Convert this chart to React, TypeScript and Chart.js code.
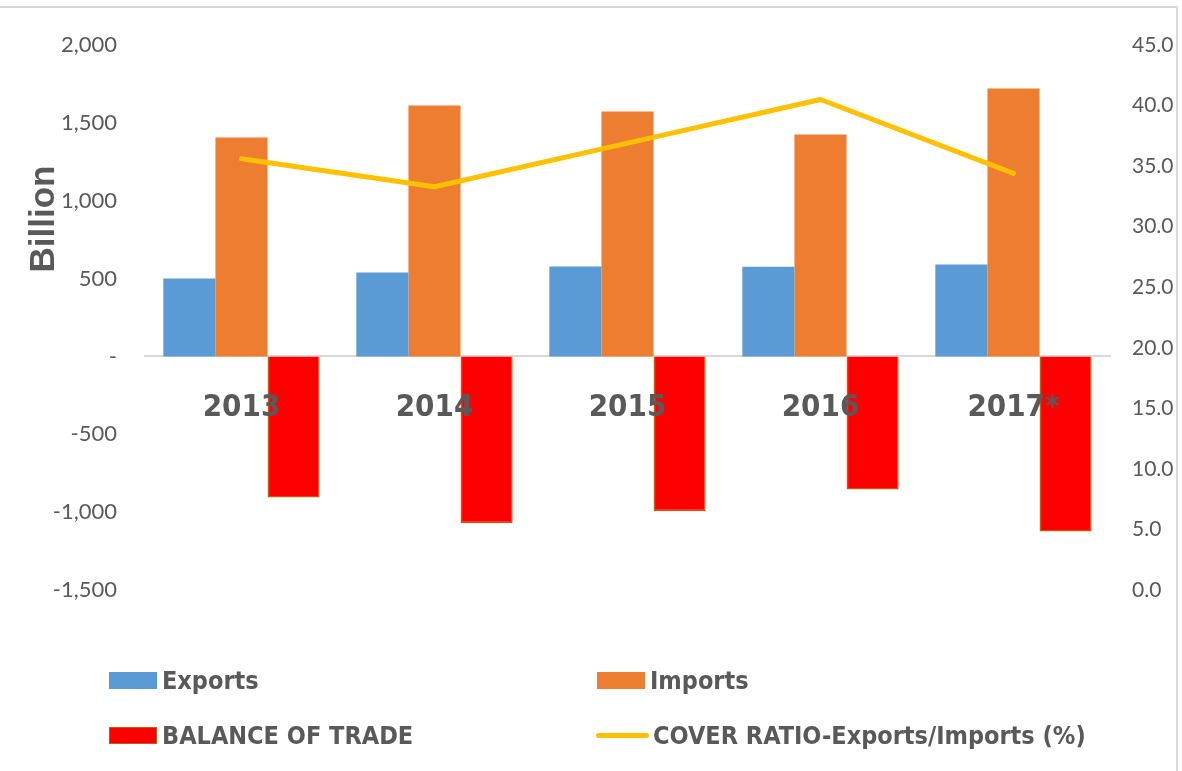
import React, { useEffect, useRef } from "react";
import { Chart, registerables } from "chart.js";

Chart.register(...registerables);

const categories = ["2013", "2014", "2015", "2016", "2017*"];
const exportsValues = [501, 539, 578, 576, 591];
const importsValues = [1406, 1612, 1573, 1426, 1721];
const balanceValues = [-906, -1072, -995, -854, -1124];
const coverRatioValues = [35.6, 33.3, 36.9, 40.5, 34.4];

const seriesNames = ["Exports", "Imports", "BALANCE OF TRADE", "COVER RATIO-Exports/Imports (%)"];
const leftTicks = { min: -1500, max: 2000, step: 500 };
const rightTicks = { min: 0, max: 45, step: 5 };
const yTitle = "Billion";

const TEXT = "#595959";
const NARROW = '"Liberation Sans Narrow", "DejaVu Sans Condensed", "Arial Narrow", sans-serif';
const TICKFONT = 'Lato, "Open Sans", sans-serif';

const titlePlugin = {
  id: "sideTitle",
  afterDraw(chart: any) {
    const ctx = chart.ctx;
    ctx.save();
    ctx.translate(44, 219);
    ctx.rotate(-Math.PI / 2);
    ctx.font = 'bold 35px "Liberation Sans", Arial, sans-serif';
    ctx.fillStyle = TEXT;
    ctx.textAlign = "center";
    ctx.textBaseline = "middle";
    ctx.fillText(yTitle, 0, 0);
    ctx.restore();
  },
};

export default function App() {
  const ref = useRef<HTMLCanvasElement | null>(null);

  useEffect(() => {
    if (!ref.current) return;
    const chart = new Chart(ref.current, {
      type: "bar",
      data: {
        labels: categories,
        datasets: [
          {
            label: seriesNames[0],
            data: exportsValues,
            backgroundColor: "#5b9bd5",
            yAxisID: "y",
            order: 1,
          },
          {
            label: seriesNames[1],
            data: importsValues,
            backgroundColor: "#ed7d31",
            yAxisID: "y",
            order: 1,
          },
          {
            label: seriesNames[2],
            data: balanceValues,
            backgroundColor: "#ff0000",
            borderColor: "#c55a11",
            borderWidth: 1.5,
            yAxisID: "y",
            order: 1,
          },
          {
            type: "line",
            label: seriesNames[3],
            data: coverRatioValues,
            borderColor: "#ffc000",
            backgroundColor: "#ffc000",
            borderWidth: 5,
            borderCapStyle: "round",
            borderJoinStyle: "round",
            pointRadius: 0,
            tension: 0,
            yAxisID: "y1",
            order: 0,
          } as any,
        ],
      },
      options: {
        animation: false,
        responsive: false,
        maintainAspectRatio: false,
        layout: { padding: { top: 45, bottom: 181, left: 0, right: 0 } },
        datasets: { bar: { categoryPercentage: 0.81, barPercentage: 1 } } as any,
        plugins: {
          legend: { display: false },
          tooltip: { enabled: false },
          title: { display: false },
        },
        scales: {
          x: {
            position: { y: 0 } as any,
            grid: { display: false, drawTicks: false },
            border: { display: true, color: "#d9d9d9", width: 2 },
            ticks: {
              z: 1,
              color: TEXT,
              padding: 33,
              font: { family: NARROW, size: 31, weight: "bold" },
              maxRotation: 0,
            } as any,
          },
          y: {
            position: "left",
            min: leftTicks.min,
            max: leftTicks.max,
            afterFit: (s: any) => {
              s.width = 145;
            },
            grid: { display: false, drawTicks: false },
            border: { display: false },
            ticks: {
              stepSize: leftTicks.step,
              color: TEXT,
              padding: 28,
              font: { family: TICKFONT, size: 22 },
              callback: (v: any) => (Number(v) === 0 ? "-" : Number(v).toLocaleString("en-US")),
            },
          },
          y1: {
            position: "right",
            min: rightTicks.min,
            max: rightTicks.max,
            afterFit: (s: any) => {
              s.width = 72;
            },
            grid: { display: false, drawTicks: false },
            border: { display: false },
            ticks: {
              stepSize: rightTicks.step,
              color: TEXT,
              padding: 22,
              font: { family: TICKFONT, size: 21 },
              callback: (v: any) => Number(v).toFixed(1),
            },
          },
        },
      },
      plugins: [titlePlugin],
    });
    return () => chart.destroy();
  }, []);

  const legendItems = [
    { name: seriesNames[0], kind: "box", fill: "#5b9bd5", border: "#5b9bd5", x: 109, y: 680 },
    { name: seriesNames[1], kind: "box", fill: "#ed7d31", border: "#ed7d31", x: 597, y: 680 },
    { name: seriesNames[2], kind: "box", fill: "#ff0000", border: "#c55a11", x: 109, y: 735 },
    { name: seriesNames[3], kind: "line", fill: "#ffc000", border: "#ffc000", x: 596, y: 735 },
  ];

  return (
    <div style={{ position: "absolute", left: 0, top: 0, width: 1182, height: 771, background: "#fff", overflow: "hidden" }}>
      <div
        style={{
          position: "absolute",
          left: -2,
          top: 6,
          width: 1180,
          height: 780,
          border: "2px solid #d9d9d9",
          boxSizing: "border-box",
        }}
      />
      <canvas ref={ref} width={1182} height={771} style={{ position: "absolute", left: 0, top: 0, width: 1182, height: 771 }} />
      {legendItems.map((it) => (
        <div key={it.name} style={{ position: "absolute", left: it.x, top: it.y - 20, height: 40, display: "flex", alignItems: "center" }}>
          {it.kind === "box" ? (
            <div style={{ width: 48, height: 17, background: it.fill, border: `1.5px solid ${it.border}`, boxSizing: "border-box" }} />
          ) : (
            <div style={{ width: 53, height: 5, background: it.fill, borderRadius: 3 }} />
          )}
          <span
            style={{
              marginLeft: it.kind === "box" ? 5 : 4,
              font: `bold 25px ${NARROW}`,
              color: TEXT,
              whiteSpace: "nowrap",
            }}
          >
            {it.name}
          </span>
        </div>
      ))}
    </div>
  );
}
